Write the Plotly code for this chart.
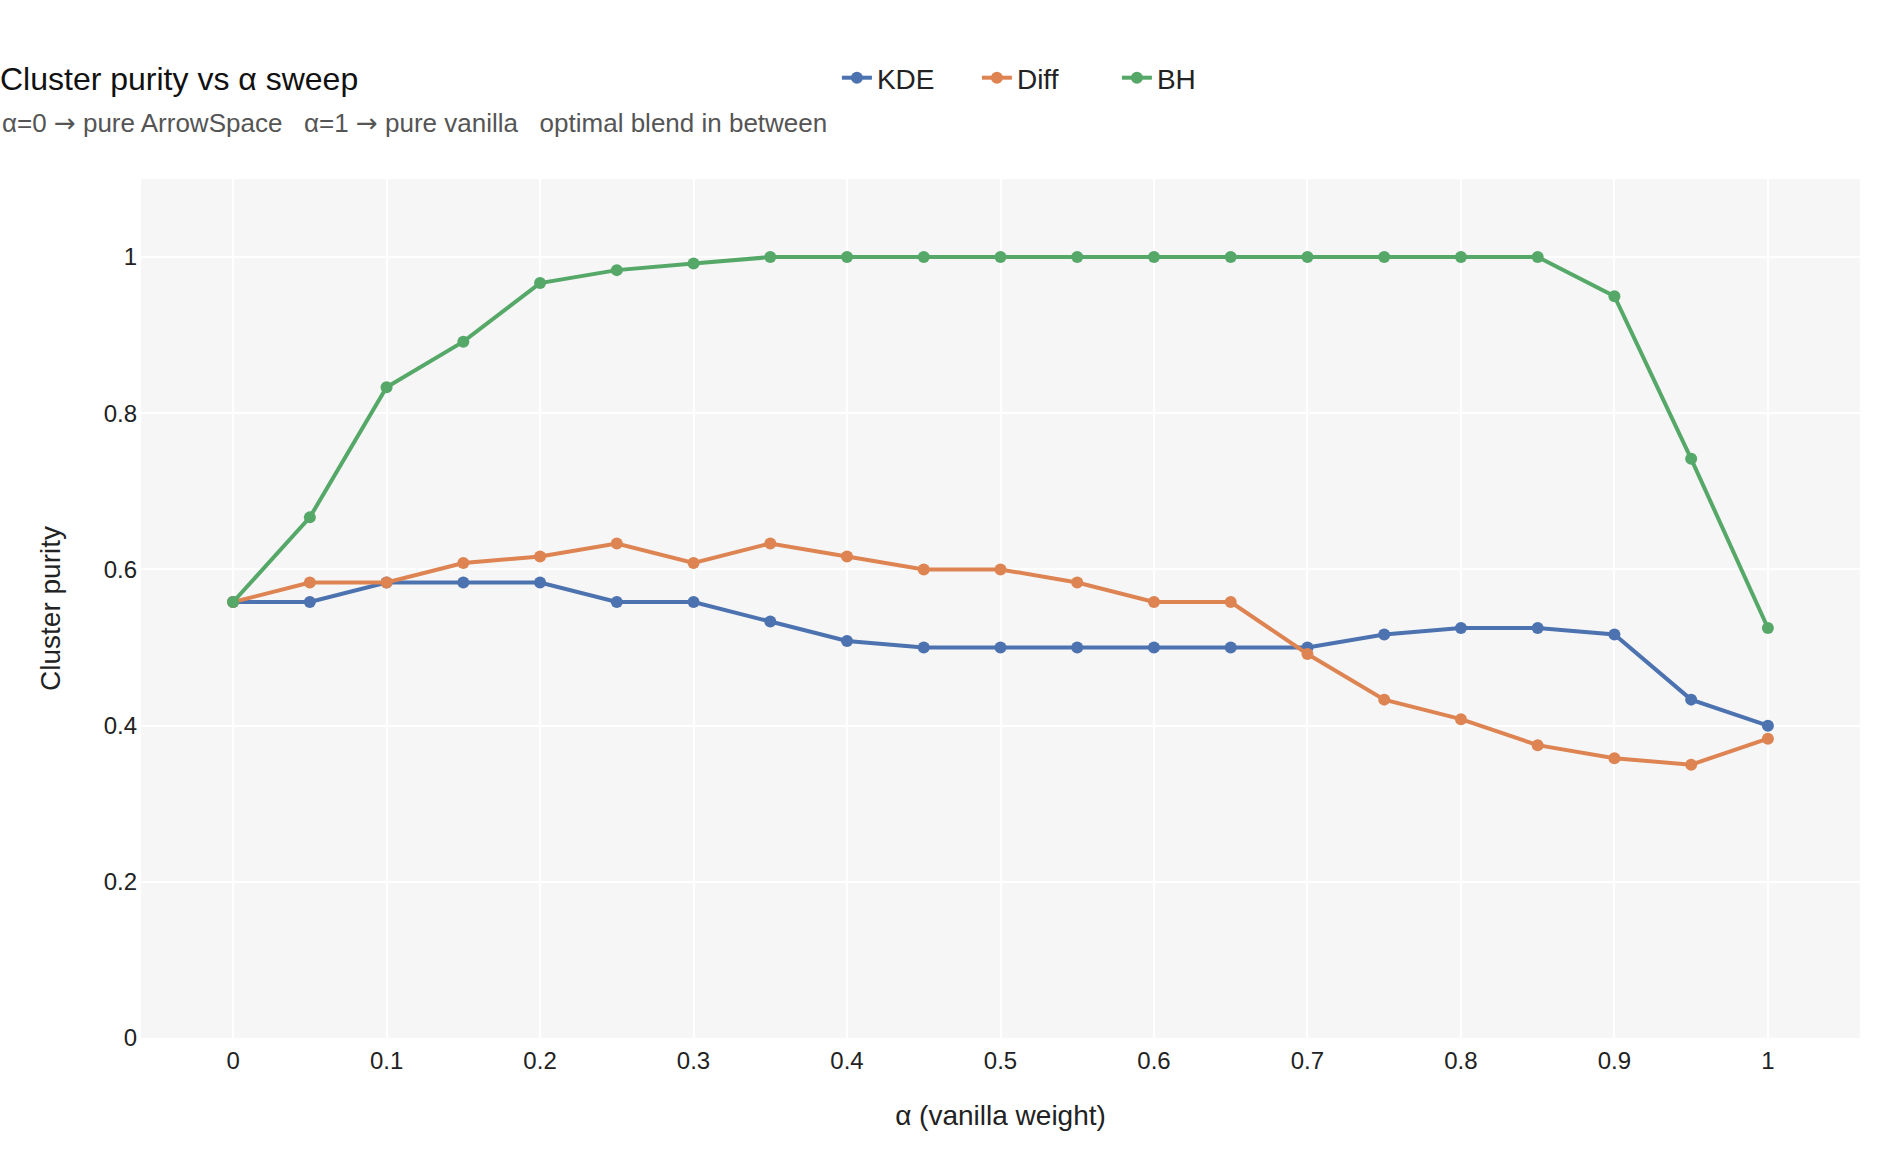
import plotly.graph_objects as go

alpha = [0.0, 0.05, 0.1, 0.15, 0.2, 0.25, 0.3, 0.35, 0.4, 0.45, 0.5,
         0.55, 0.6, 0.65, 0.7, 0.75, 0.8, 0.85, 0.9, 0.95, 1.0]

kde = [0.5583, 0.5583, 0.5833, 0.5833, 0.5833, 0.5583, 0.5583, 0.5333, 0.5083, 0.5, 0.5,
       0.5, 0.5, 0.5, 0.5, 0.5167, 0.525, 0.525, 0.5167, 0.4333, 0.4]
diff = [0.5583, 0.5833, 0.5833, 0.6083, 0.6167, 0.6333, 0.6083, 0.6333, 0.6167, 0.6, 0.6,
        0.5833, 0.5583, 0.5583, 0.4917, 0.4333, 0.4083, 0.375, 0.3583, 0.35, 0.3833]
bh = [0.5583, 0.6667, 0.8333, 0.8917, 0.9667, 0.9833, 0.9917, 1.0, 1.0, 1.0, 1.0,
      1.0, 1.0, 1.0, 1.0, 1.0, 1.0, 1.0, 0.95, 0.7417, 0.525]

series = [("KDE", kde, "#4c72b0"), ("Diff", diff, "#dd8452"), ("BH", bh, "#55a868")]

x_ticks = [0, 0.1, 0.2, 0.3, 0.4, 0.5, 0.6, 0.7, 0.8, 0.9, 1]
x_tick_labels = ["0", "0.1", "0.2", "0.3", "0.4", "0.5", "0.6", "0.7", "0.8", "0.9", "1"]
y_ticks = [0, 0.2, 0.4, 0.6, 0.8, 1]
y_tick_labels = ["0", "0.2", "0.4", "0.6", "0.8", "1"]

FONT = "Liberation Sans, Arial, Helvetica, sans-serif"
ARROW = '<span style="font-family:DejaVu Sans">→</span>'

fig = go.Figure()
for name, vals, color in series:
    fig.add_trace(go.Scatter(
        x=alpha, y=vals, name=name, mode="lines+markers",
        line=dict(color=color, width=4),
        marker=dict(color=color, size=12),
    ))

fig.update_layout(
    width=1900, height=1160,
    margin=dict(l=141, r=40, t=179, b=122),
    paper_bgcolor="white",
    plot_bgcolor="#f6f6f6",
    font=dict(family=FONT, size=24, color="#222"),
    title=dict(
        text="Cluster purity vs α sweep",
        x=0, xref="container", xanchor="left",
        y=1 - 79 / 1160, yref="container", yanchor="middle",
        font=dict(size=32, color="#111"),
        pad=dict(l=0, t=0, b=0, r=0),
    ),
    legend=dict(
        orientation="h", x=0.527, xanchor="center",
        y=1 + (179 - 78) / 859, yanchor="middle",
        font=dict(size=28, color="#222"),
        bgcolor="rgba(0,0,0,0)",
        entrywidth=95,
    ),
    xaxis=dict(
        range=[-0.06, 1.06],
        tickvals=x_ticks, ticktext=x_tick_labels,
        showgrid=True, gridcolor="white", gridwidth=2,
        zeroline=False, showline=False,
        tickfont=dict(size=24, color="#222"),
        ticklabelstandoff=6,
        title=dict(text="α (vanilla weight)", font=dict(size=28, color="#222"), standoff=32),
    ),
    yaxis=dict(
        range=[0, 1.1],
        tickvals=y_ticks, ticktext=y_tick_labels,
        showgrid=True, gridcolor="white", gridwidth=2,
        zeroline=False, showline=False,
        tickfont=dict(size=24, color="#222"),
        ticklabelstandoff=3,
        title=dict(text="Cluster purity", font=dict(size=28, color="#222"), standoff=34),
    ),
    annotations=[dict(
        text=f"α=0 {ARROW} pure ArrowSpace &nbsp; α=1 {ARROW} pure vanilla &nbsp; optimal blend in between",
        xref="paper", yref="paper",
        x=-141 / 1719, xanchor="left",
        y=1 + (179 - 123) / 859, yanchor="middle",
        showarrow=False,
        font=dict(size=26, color="#555"),
    )],
)

fig.write_html("out.html")
